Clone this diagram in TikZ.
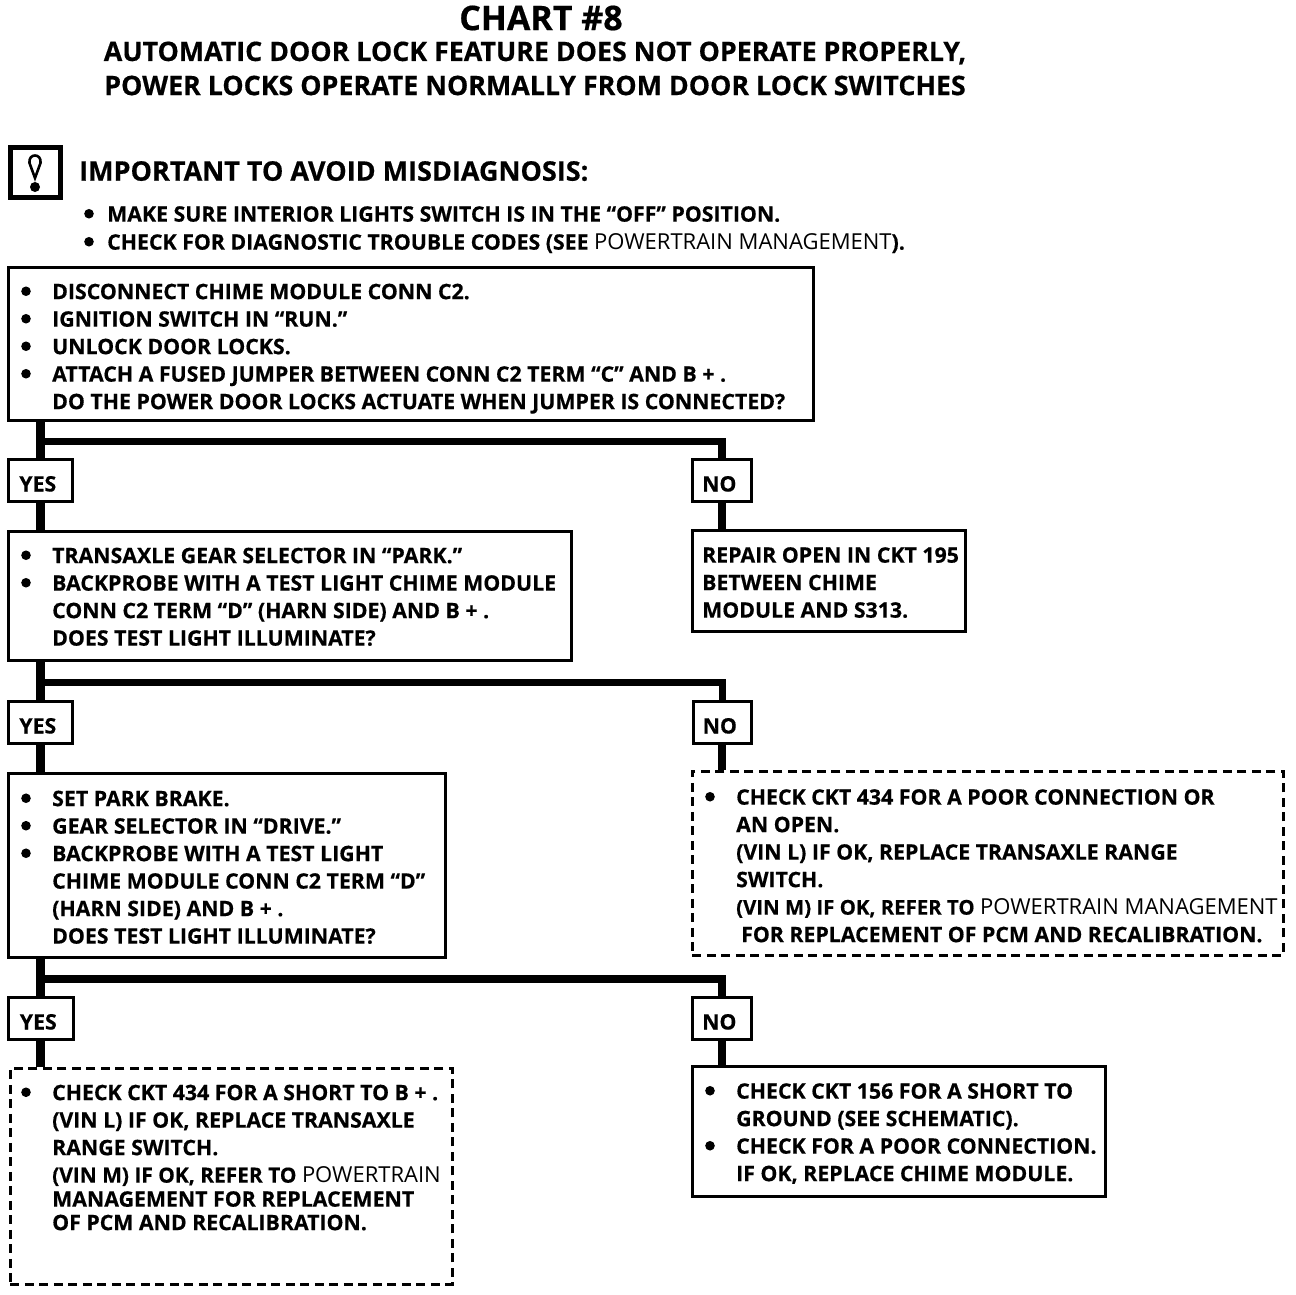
\documentclass[tikz,border=0pt]{standalone}
\usepackage{fontspec}
\usetikzlibrary{calc}
\setmainfont{Open Sans}[BoldFeatures={FakeBold=0.5}]
\newcommand{\blx}[1]{\llap{\raisebox{7.9pt}{\tikz[baseline=0pt]\fill (0,0) circle (4.8pt);}\hspace{#1}}}
\newcommand{\bl}{\blx{21.4pt}}
\newcommand{\lighttxt}[1]{{\mdseries\fontsize{22}{27.5}\selectfont #1}}
\newcommand{\tighttxt}[2]{{\fontsize{#1}{27.5}\selectfont #2}}
\newcommand{\ansl}[1]{\raisebox{-11.2pt}[0pt][0pt]{#1\hspace{5pt}}}
\tikzset{
  x=1pt,y=-1pt,
  boxs/.style={draw,line width=2.6pt,inner sep=0pt,anchor=north west},
  dbox/.style={draw,line width=2.6pt,dash pattern=on 9pt off 5.5pt,inner sep=0pt,anchor=north west},
  txt/.style={anchor=north west,inner sep=0pt,align=left,font=\bfseries\fontsize{21.3}{27.5}\selectfont,execute at begin node=\strut},
  ans/.style={boxs,font=\bfseries\fontsize{21.3}{22}\selectfont},
  trunk/.style={line width=9pt},
  branch/.style={line width=7.5pt},
  nodrop/.style={line width=8pt},
  head/.style={inner sep=0pt,font=\bfseries\fontsize{26.8}{30}\selectfont},
}
\begin{document}
\begin{tikzpicture}
\useasboundingbox (0,0) rectangle (1296,1294);
\node[head,font=\bfseries\fontsize{34}{36}\selectfont] (title) at (541,18) {CHART \#8};
\node[head] (sub1) at (535,53) {AUTOMATIC DOOR LOCK FEATURE DOES NOT OPERATE PROPERLY,};
\node[head] (sub2) at (535,85.5) {POWER LOCKS OPERATE NORMALLY FROM DOOR LOCK SWITCHES};
% warning icon
\node[boxs,line width=5pt,minimum width=50pt,minimum height=50pt] (icon) at (8,145) {};
\draw[line width=2.6pt] (35,178) -- (29.5,163) .. controls (28,153) and (42,153) .. (40.5,163) -- cycle;
\fill (35,187) circle (5pt);
\node[txt,font=\bfseries\fontsize{27}{30}\selectfont,execute at begin node=] (imp) at (79,159.5) {IMPORTANT TO AVOID MISDIAGNOSIS:};
\node[txt] (notes) at (107,206) {\blx{13.4pt}MAKE SURE INTERIOR LIGHTS SWITCH IS IN THE “OFF” POSITION.\\[.5pt]\blx{13.4pt}CHECK FOR DIAGNOSTIC TROUBLE CODES (SEE \lighttxt{POWERTRAIN MANAGEMENT}).};
% boxes
\node[boxs,minimum width=805pt,minimum height=153pt] (b1) at (7,266) {};
\node[txt] (t1) at (52,283.5) {\bl DISCONNECT CHIME MODULE CONN C2.\\\bl IGNITION SWITCH IN “RUN.”\\\bl UNLOCK DOOR LOCKS.\\\bl ATTACH A FUSED JUMPER BETWEEN CONN C2 TERM “C” AND B + .\\DO THE POWER DOOR LOCKS ACTUATE WHEN JUMPER IS CONNECTED?};
\node[ans,minimum width=64pt,minimum height=42pt] (y1) at (7,458) {\ansl{YES}};
\node[ans,minimum width=59pt,minimum height=42pt] (n1) at (691,458) {\ansl{NO}};
\node[boxs,minimum width=563pt,minimum height=129pt] (b2) at (7,530) {};
\node[txt] (t2) at (52,547.5) {\bl TRANSAXLE GEAR SELECTOR IN “PARK.”\\\bl BACKPROBE WITH A TEST LIGHT CHIME MODULE\\CONN C2 TERM “D” (HARN SIDE) AND B + .\\DOES TEST LIGHT ILLUMINATE?};
\node[boxs,minimum width=273pt,minimum height=101pt] (b2n) at (691,529) {};
\node[txt] (t2n) at (702,547) {REPAIR OPEN IN CKT 195\\BETWEEN CHIME\\MODULE AND S313.};
\node[ans,minimum width=64pt,minimum height=42pt] (y2) at (7,700) {\ansl{YES}};
\node[ans,minimum width=58pt,minimum height=42pt] (n2) at (692,700) {\ansl{NO}};
\node[boxs,minimum width=437pt,minimum height=184pt] (b3) at (7,772) {};
\node[txt] (t3) at (52,790.5) {\bl SET PARK BRAKE.\\\bl GEAR SELECTOR IN “DRIVE.”\\\bl BACKPROBE WITH A TEST LIGHT\\CHIME MODULE CONN C2 TERM “D”\\(HARN SIDE) AND B + .\\DOES TEST LIGHT ILLUMINATE?};
\node[dbox,minimum width=591pt,minimum height=184pt] (b3n) at (691,770) {};
\node[txt] (t3n) at (736,789) {\bl CHECK CKT 434 FOR A POOR CONNECTION OR\\AN OPEN.\\(VIN L) IF OK, REPLACE TRANSAXLE RANGE\\SWITCH.\\\tighttxt{20.4}{(VIN M) IF OK, REFER TO} \lighttxt{POWERTRAIN MANAGEMENT}\\\hspace{5pt}FOR REPLACEMENT OF PCM AND RECALIBRATION.};
\node[ans,minimum width=65pt,minimum height=42pt] (y3) at (7,996) {\ansl{YES}};
\node[ans,minimum width=59pt,minimum height=42pt] (n3) at (691,996) {\ansl{NO}};
\node[dbox,minimum width=442pt,minimum height=216pt] (b4) at (9,1067) {};
\node[txt] (t4) at (52,1084.5) {\bl CHECK CKT 434 FOR A SHORT TO B + .\\(VIN L) IF OK, REPLACE TRANSAXLE\\RANGE SWITCH.\\\tighttxt{20.9}{(VIN M) IF OK, REFER TO} \lighttxt{POWERTRAIN}\\[-3.5pt]MANAGEMENT FOR REPLACEMENT\\[-4pt]OF PCM AND RECALIBRATION.};
\node[boxs,minimum width=413pt,minimum height=130pt] (b4n) at (691,1065) {};
\node[txt] (t4n) at (736,1083) {\bl CHECK CKT 156 FOR A SHORT TO\\GROUND (SEE SCHEMATIC).\\\bl CHECK FOR A POOR CONNECTION.\\IF OK, REPLACE CHIME MODULE.};
% connectors
\draw[trunk] (b1.south -| y1) -- (y1.north);
\draw[trunk] (y1.south) -- (b2.north -| y1);
\coordinate (j1) at ($(b1.south -| y1)!.55!(y1.north)$);
\draw[branch] (j1) -| (n1.north);
\draw[nodrop] (n1.south) -- (b2n.north -| n1);
\draw[trunk] (b2.south -| y2) -- (y2.north);
\draw[trunk] (y2.south) -- (b3.north -| y2);
\coordinate (j2) at ($(b2.south -| y2)!.55!(y2.north)$);
\draw[branch] (j2) -| (n2.north);
\draw[nodrop] (n2.south) -- (b3n.north -| n2);
\draw[trunk] (b3.south -| y3) -- (y3.north);
\draw[trunk] (y3.south) -- (b4.north -| y3);
\coordinate (j3) at ($(b3.south -| y3)!.55!(y3.north)$);
\draw[branch] (j3) -| (n3.north);
\draw[nodrop] (n3.south) -- (b4n.north -| n3);
\end{tikzpicture}
\end{document}
